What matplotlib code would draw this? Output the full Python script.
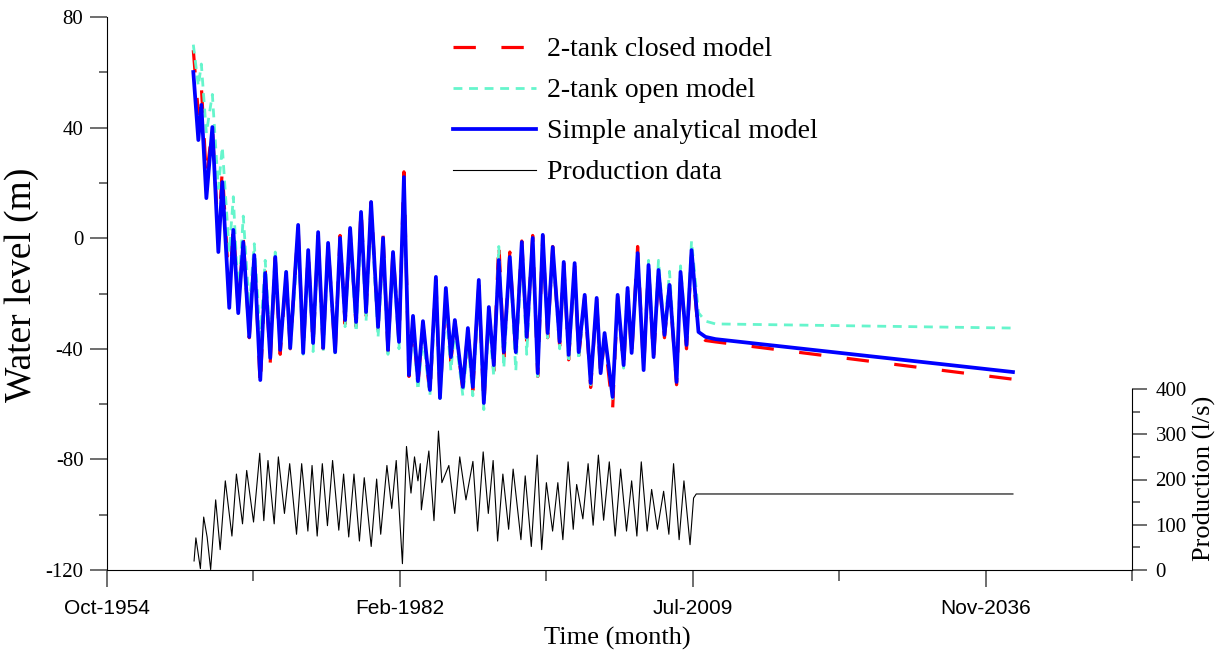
"""
    Water level models vs production data
"""

import matplotlib.pyplot as plt
from matplotlib.ticker import FixedLocator
from matplotlib.lines import Line2D

plt.rcParams['font.family'] = ['Liberation Serif', 'DejaVu Serif']

# time in decimal years, water level in m
wl_years = [1962.82, 1963.29, 1963.57, 1964.04, 1964.60, 1965.16, 1965.53, 1966.18, 1966.56, 1967.02,
            1967.49, 1968.05, 1968.52, 1969.08, 1969.54, 1970.01, 1970.48, 1970.94, 1971.50, 1971.88,
            1972.62, 1973.09, 1973.56, 1974.02, 1974.49, 1974.96, 1975.42, 1976.08, 1976.54, 1977.01,
            1977.48, 1978.04, 1978.50, 1978.97, 1979.44, 1980.09, 1980.56, 1981.02, 1981.49, 1982.05,
            1982.51, 1982.98, 1983.36, 1983.82, 1984.29, 1984.94, 1985.50, 1985.88, 1986.43, 1986.90,
            1987.27, 1988.02, 1988.49, 1988.95, 1989.51, 1989.98, 1990.45, 1990.91, 1991.38, 1991.85,
            1992.41, 1992.97, 1993.53, 1993.99, 1994.55, 1995.02, 1995.49, 1995.95, 1996.42, 1997.07,
            1997.45, 1997.91, 1998.47, 1998.85, 1999.41, 1999.97, 2000.53, 2000.90, 2001.27, 2002.02,
            2002.49, 2003.05, 2003.42, 2003.80, 2004.36, 2004.92, 2005.38, 2005.85, 2006.31, 2006.87,
            2007.34, 2008.00, 2008.37, 2008.93, 2009.40, 2010.05, 2010.71, 2011.64, 2039.45]

closed_model = [68, 45, 55, 22, 40, 0, 25, -20, 5, -26,
                0, -36, -5, -54, -12, -45, -7, -42, -13, -40,
                4, -42, -5, -39, 1, -40, -2, -42, 1, -31,
                3, -32, 11, -28, 13, -33, 1, -41, -4, -38,
                24, -50, -30, -53, -31, -57, -15, -58, -20, -45,
                -30, -55, -33, -55, -17, -61, -26, -48, -1, -43,
                -5, -43, -1, -37, 1, -50, 1, -36, -3, -39,
                -9, -44, -10, -43, -21, -54, -22, -50, -36, -62,
                -21, -47, -19, -43, -3, -48, -10, -44, -12, -36,
                -17, -53, -13, -40, -6, -35, -37, -37.5, -51]

open_model = [70, 55, 63, 38, 52, 18, 33, -5, 15, -22,
              8, -25, -2, -36, -8, -38, -5, -40, -12, -41,
              -1, -42, -8, -41, -2, -41, -6, -42, -2, -32,
              0, -34, 5, -30, 9, -36, -4, -42, -8, -40,
              18, -48, -33, -55, -36, -57, -20, -58, -24, -48,
              -33, -57, -38, -57, -20, -62, -30, -50, -3, -47,
              -8, -48, -4, -42, -2, -50, 0, -36, -5, -40,
              -10, -45, -11, -44, -22, -53, -22, -50, -35, -58,
              -22, -47, -18, -42, -6, -47, -8, -42, -8, -34,
              -12, -51, -10, -37, -1, -27, -30, -31, -32.5]

simple_model = [60.1, 35.5, 48.2, 14.5, 40.2, -5.0, 20.3, -25.2, 3.0, -27.1,
                -1.4, -35.7, -6.1, -51.3, -12.6, -43.3, -6.8, -40.4, -12.2, -39.7,
                4.8, -41.5, -4.3, -37.9, 2.2, -39.7, -1.7, -41.2, 0.1, -29.6,
                3.7, -30.3, 9.5, -26.7, 13.1, -32.1, 0.1, -40.4, -5.0, -37.5,
                22.1, -49.5, -28.1, -51.7, -30.0, -54.9, -14.0, -57.8, -18.0, -43.0,
                -29.6, -53.8, -32.5, -53.8, -15.1, -59.6, -24.9, -45.9, -7.9, -41.2,
                -6.8, -41.2, -1.4, -35.7, 0.1, -48.8, 1.2, -34.3, -3.2, -37.5,
                -8.6, -42.2, -9.0, -41.2, -20.5, -52.4, -21.6, -48.8, -34.3, -57.4,
                -20.5, -45.9, -18.0, -41.5, -5.4, -47.7, -9.7, -43.0, -11.5, -35.0,
                -16.9, -52.0, -12.2, -38.6, -4.3, -33.9, -35.7, -36.5, -48.4]

# production in l/s
prod_years = [1962.89, 1963.06, 1963.48, 1963.79, 1964.11, 1964.44, 1964.91, 1965.33, 1965.81, 1966.43,
              1966.85, 1967.42, 1967.81, 1968.45, 1969.03, 1969.41, 1969.80, 1970.38, 1970.77, 1971.34,
              1971.83, 1972.47, 1972.95, 1973.53, 1973.92, 1974.40, 1974.88, 1975.36, 1975.84, 1976.42,
              1976.87, 1977.35, 1977.84, 1978.35, 1978.80, 1979.45, 1979.96, 1980.34, 1980.92, 1981.37,
              1981.79, 1982.37, 1982.75, 1983.17, 1983.50, 1983.82, 1984.04, 1984.14, 1984.84, 1985.32,
              1985.74, 1986.06, 1986.71, 1987.26, 1987.73, 1988.31, 1988.96, 1989.40, 1989.92, 1990.40,
              1990.85, 1991.27, 1991.76, 1992.30, 1992.72, 1993.45, 1993.85, 1994.42, 1994.97, 1995.39,
              1995.83, 1996.41, 1996.90, 1997.37, 1997.86, 1998.34, 1998.66, 1999.24, 1999.73, 2000.20,
              2000.69, 2001.18, 2001.71, 2002.26, 2002.77, 2003.32, 2003.80, 2004.29, 2004.70, 2005.25,
              2005.67, 2006.21, 2006.79, 2007.28, 2007.72, 2008.24, 2008.69, 2009.26, 2009.59, 2009.84,
              2039.45]

production = [20, 71, 3, 117, 73, 1, 155, 45, 197, 75,
              212, 102, 220, 106, 258, 109, 242, 102, 250, 125,
              235, 79, 235, 86, 231, 75, 235, 98, 242, 88,
              212, 73, 212, 64, 204, 52, 201, 79, 231, 136,
              242, 14, 273, 170, 250, 197, 235, 133, 263, 109,
              307, 193, 231, 125, 250, 155, 240, 86, 261, 125,
              242, 64, 212, 90, 223, 67, 208, 52, 254, 45,
              193, 86, 193, 67, 239, 90, 189, 113, 235, 99,
              254, 110, 239, 75, 223, 86, 197, 75, 239, 86,
              178, 90, 174, 79, 235, 67, 197, 56, 159, 168,
              168]

tick_years = [1954.75, 1982.13, 2009.51, 2036.89]
tick_labels = ['Oct-1954', 'Feb-1982', 'Jul-2009', 'Nov-2036']
step = 27.38

fig = plt.figure(figsize=(12.21, 6.56), dpi=100)
ax = fig.add_axes([107 / 1221, 86 / 656, 1025 / 1221, 553 / 656])

red, = ax.plot(wl_years, closed_model, color='#ff0000', lw=2.3, dashes=(7, 8))
green, = ax.plot(wl_years, open_model, color='#66f5cc', lw=2.0, dashes=(3.2, 2.4))
blue, = ax.plot(wl_years, simple_model, color='#0000ff', lw=2.7)

ax.set_xlim(tick_years[0], tick_years[0] + 3.5 * step)
ax.set_ylim(-120, 80)
ax.set_xticks(tick_years)
ax.set_xticklabels(tick_labels, family='Liberation Sans', fontsize=15)
ax.xaxis.set_minor_locator(FixedLocator([t + step / 2 for t in tick_years]))
ax.set_yticks([-120, -80, -40, 0, 40, 80])
ax.set_yticklabels(['-120', '-80', '-40', '0', '40', '80'], fontsize=15)
ax.yaxis.set_minor_locator(FixedLocator([-100, -60, -20, 20, 60]))

ax.spines['top'].set_visible(False)
ax.spines['right'].set_visible(False)
ax.tick_params(axis='x', which='major', length=12, width=1.2, color='#555555', pad=9)
ax.tick_params(axis='x', which='minor', length=8, width=1.2, color='#555555')
ax.tick_params(axis='y', which='major', length=12, width=1.2, color='#555555', pad=5)
ax.tick_params(axis='y', which='minor', length=6, width=1.2, color='#555555')

ax.set_xlabel('Time (month)', fontsize=19)
ax.xaxis.set_label_coords(0.4976, -0.103)
ax.set_ylabel('Water level (m)', fontsize=27)
ax.yaxis.set_label_coords(-0.066, 0.516)

# production on its own scale at the bottom right
ax2 = ax.twinx()
black, = ax2.plot(prod_years, production, color='black', lw=0.8)
ax2.set_ylim(0, 400 * 553 / 181)
ax2.set_yticks([0, 100, 200, 300, 400])
ax2.set_yticklabels(['0', '100', '200', '300', '400'], fontsize=15)
ax2.yaxis.set_minor_locator(FixedLocator([50, 150, 250, 350]))
ax2.spines['right'].set_bounds(0, 400)
for s in ['top', 'left', 'bottom']:
    ax2.spines[s].set_visible(False)
ax2.tick_params(axis='y', which='major', length=11, width=1.2, color='#555555', pad=6)
ax2.tick_params(axis='y', which='minor', length=6, width=1.2, color='#555555')
ax2.set_ylabel('Production (l/s)', fontsize=19)
ax2.yaxis.set_label_coords(1.0595, 0.166)

handles = [Line2D([], [], color='#ff0000', lw=2.3, dashes=(7, 8)),
           Line2D([], [], color='#66f5cc', lw=2.0, dashes=(3.2, 2.4)),
           Line2D([], [], color='#0000ff', lw=2.7),
           Line2D([], [], color='black', lw=0.8)]
labels = ['2-tank closed model', '2-tank open model', 'Simple analytical model', 'Production data']
ax2.legend(handles, labels, loc='upper left', bbox_to_anchor=(0.3376, 0.964),
           frameon=False, fontsize=20, handlelength=3.0, handletextpad=0.4,
           labelspacing=0.56, borderpad=0, borderaxespad=0)

plt.savefig('out.png', dpi=100)
